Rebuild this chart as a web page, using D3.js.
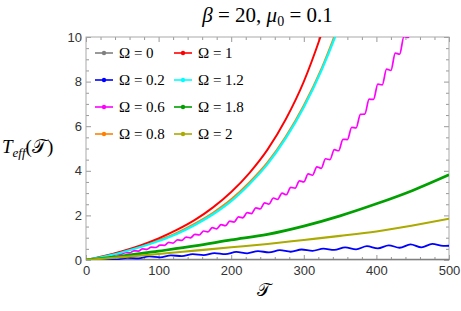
<!DOCTYPE html>
<html>
<head>
<meta charset="utf-8">
<script src="https://cdn.jsdelivr.net/npm/d3@7"></script>
<style>
  body { margin: 0; background: #fff; }
  svg { display: block; }
  .tick text { font-family: "Liberation Sans", Arial, sans-serif; font-size: 13px; fill: #333; }
  .tick line { stroke: #999; }
  .math { font-family: "Liberation Serif", "DejaVu Serif", serif; fill: #000; }
</style>
</head>
<body>
<div id="chart"></div>
<script>
// data: [T, T_eff]
var omega0 = [[0, 0], [500, 0]];
var omega02 = [[0,0],[12,0.0],[27,0.04],[42,0.03],[57,0.1],[72,0.07],[87,0.16],[102,0.12],[117,0.21],[132,0.17],
  [147,0.26],[162,0.22],[177,0.31],[192,0.26],[207,0.36],[222,0.3],[237,0.4],[252,0.34],[267,0.44],[282,0.37],
  [297,0.47],[312,0.41],[327,0.51],[342,0.45],[357,0.57],[372,0.48],[387,0.62],[402,0.52],[417,0.66],[432,0.55],
  [447,0.7],[462,0.57],[477,0.72],[492,0.63],[500,0.64]];
var omega06 = [[0,0],[6,0.03],[12,0.05],[18,0.09],[24,0.11],[30,0.16],[36,0.18],[42,0.25],[48,0.25],[54,0.33],
  [60,0.32],[66,0.41],[72,0.40],[78,0.50],[84,0.48],[90,0.58],[96,0.56],[102,0.67],[108,0.66],[114,0.79],
  [120,0.76],[126,0.90],[132,0.88],[138,1.03],[144,0.99],[150,1.15],[156,1.12],[162,1.30],[168,1.26],[174,1.45],
  [180,1.40],[186,1.59],[192,1.54],[198,1.74],[204,1.70],[210,1.93],[216,1.89],[222,2.12],[228,2.08],[234,2.34],
  [240,2.29],[246,2.56],[252,2.51],[258,2.78],[264,2.72],[270,3.00],[276,2.93],[282,3.26],[288,3.22],[294,3.55],
  [300,3.50],[306,3.86],[312,3.80],[318,4.18],[324,4.11],[330,4.54],[336,4.50],[342,4.95],[348,4.90],[354,5.41],
  [360,5.40],[366,5.95],[372,5.92],[378,6.53],[384,6.54],[390,7.21],[396,7.20],[402,7.89],[408,7.85],[414,8.56],
  [420,8.50],[426,9.28],[432,9.23],[438,10.03],[444,9.98],[450,10.8]];
var omega08 = [[0,0],[25,0.16],[50,0.37],[75,0.61],[100,0.89],[125,1.22],[150,1.63],[175,2.12],[200,2.72],
  [225,3.48],[250,4.38],[275,5.53],[300,6.93],[325,8.63],[350,10.7],[365,12]];
var omega1 = [[0,0],[25,0.18],[50,0.4],[75,0.66],[100,0.97],[125,1.35],[150,1.8],[175,2.36],[200,3.05],
  [225,3.9],[250,4.95],[275,6.3],[300,8.0],[325,10.2],[340,11.7]];
var omega12 = [[0,0],[25,0.15],[50,0.35],[75,0.58],[100,0.85],[125,1.17],[150,1.57],[175,2.05],[200,2.64],
  [225,3.4],[250,4.3],[275,5.45],[300,6.85],[325,8.55],[350,10.6],[365,12]];
var omega18 = [[0,0],[50,0.18],[100,0.4],[150,0.63],[200,0.9],[250,1.15],[300,1.52],[350,1.98],[400,2.52],
  [450,3.12],[500,3.82]];
var omega2 = [[0,0],[50,0.13],[100,0.27],[150,0.42],[200,0.57],[250,0.72],[300,0.9],[350,1.08],[400,1.28],
  [450,1.55],[500,1.85]];

var legendLabels = ["0", "0.2", "0.6", "0.8", "1", "1.2", "1.8", "2"];
var seriesData = [omega0, omega02, omega06, omega08, omega1, omega12, omega18, omega2];
var seriesColors = ["#808080", "#0000ff", "#ff00ff", "#ff8000", "#ff0000", "#00ffff", "#00a000", "#aaaa00"];
var seriesWidths = [2.5, 1.8, 1.7, 2.0, 1.9, 2.2, 2.7, 2.1];

var xMajor = [0, 100, 200, 300, 400, 500];
var yMajor = [0, 2, 4, 6, 8, 10];

var svgWidth = 461, svgHeight = 311;
var margin = { top: 37, left: 86, right: 12, bottom: 51 };
var width = svgWidth - margin.left - margin.right;
var height = svgHeight - margin.top - margin.bottom;

var svg = d3.select("#chart").append("svg")
    .attr("width", svgWidth)
    .attr("height", svgHeight);
var g = svg.append("g")
    .attr("transform", `translate(${margin.left}, ${margin.top})`);

var x = d3.scaleLinear().domain([0, 500]).range([0, width]);
var y = d3.scaleLinear().domain([0, 10]).range([height, 0]);

// minor ticks
var xMinor = d3.range(0, 501, 20).filter(d => d % 100 !== 0);
var yMinor = d3.range(0, 10.01, 0.5).filter(d => d % 2 !== 0);

function drawAxis(axis, transform) {
    var a = g.append("g").attr("transform", transform).call(axis);
    a.select(".domain").remove();
    return a;
}
drawAxis(d3.axisBottom(x).tickValues(xMajor).tickSize(-5).tickPadding(6).tickFormat(d3.format("d")), `translate(0, ${height})`);
drawAxis(d3.axisBottom(x).tickValues(xMinor).tickSize(-3).tickFormat(""), `translate(0, ${height})`);
drawAxis(d3.axisTop(x).tickValues(xMajor).tickSize(-5).tickFormat(""), "translate(0, 0)");
drawAxis(d3.axisTop(x).tickValues(xMinor).tickSize(-3).tickFormat(""), "translate(0, 0)");
drawAxis(d3.axisLeft(y).tickValues(yMajor).tickSize(-5).tickPadding(4).tickFormat(d3.format("d")), "translate(0, 0)");
drawAxis(d3.axisLeft(y).tickValues(yMinor).tickSize(-3).tickFormat(""), "translate(0, 0)");
drawAxis(d3.axisRight(y).tickValues(yMajor).tickSize(-5).tickFormat(""), `translate(${width}, 0)`);
drawAxis(d3.axisRight(y).tickValues(yMinor).tickSize(-3).tickFormat(""), `translate(${width}, 0)`);

g.append("rect")
    .attr("width", width).attr("height", height)
    .attr("fill", "none").attr("stroke", "#aaa").attr("stroke-width", 1);

svg.append("clipPath").attr("id", "plotclip")
  .append("rect").attr("width", width).attr("height", height);

var line = d3.line()
    .x(d => x(d[0]))
    .y(d => y(d[1]))
    .curve(d3.curveMonotoneX);

var curves = g.append("g").attr("clip-path", "url(#plotclip)");
seriesData.forEach(function(data, i) {
    curves.append("path")
        .datum(data)
        .attr("fill", "none")
        .attr("stroke", seriesColors[i])
        .attr("stroke-width", seriesWidths[i])
        .attr("stroke-linejoin", "round")
        .attr("d", line);
});

// legend
var legend = g.append("g").attr("transform", "translate(9, 16)");
legendLabels.forEach(function(lab, i) {
    var col = Math.floor(i / 4), row = i % 4;
    var item = legend.append("g")
        .attr("transform", `translate(${col * 79}, ${row * 27})`);
    item.append("line")
        .attr("x1", 0).attr("x2", 18).attr("y1", 0).attr("y2", 0)
        .attr("stroke", seriesColors[i]).attr("stroke-width", 1.6);
    item.append("circle")
        .attr("cx", 9).attr("cy", 0).attr("r", 2.2)
        .attr("fill", seriesColors[i]);
    item.append("text")
        .attr("class", "math")
        .attr("x", 24).attr("y", 5)
        .style("font-size", "15px")
        .text("Ω = " + lab);
});

// title
var title = svg.append("text")
    .attr("class", "math")
    .attr("x", margin.left + width / 2).attr("y", 22)
    .attr("text-anchor", "middle")
    .style("font-size", "21px");
title.append("tspan").style("font-style", "italic").text("β");
title.append("tspan").text(" = 20, ");
title.append("tspan").style("font-style", "italic").text("μ");
title.append("tspan").attr("dy", 4).style("font-size", "14px").text("0");
title.append("tspan").attr("dy", -4).text(" = 0.1");

// y label
var ylab = svg.append("text")
    .attr("class", "math")
    .attr("x", 2).attr("y", 153)
    .style("font-size", "19px");
ylab.append("tspan").style("font-style", "italic").text("T");
ylab.append("tspan").attr("dy", 4).style("font-style", "italic").style("font-size", "13px").text("eff");
ylab.append("tspan").attr("dy", -4).text("(");
ylab.append("tspan").text("𝒯");
ylab.append("tspan").text(")");

// x label
svg.append("text")
    .attr("class", "math")
    .attr("x", margin.left + width / 2 - 4).attr("y", 296)
    .attr("text-anchor", "middle")
    .style("font-size", "18px")
    .text("𝒯");
</script>
</body>
</html>
